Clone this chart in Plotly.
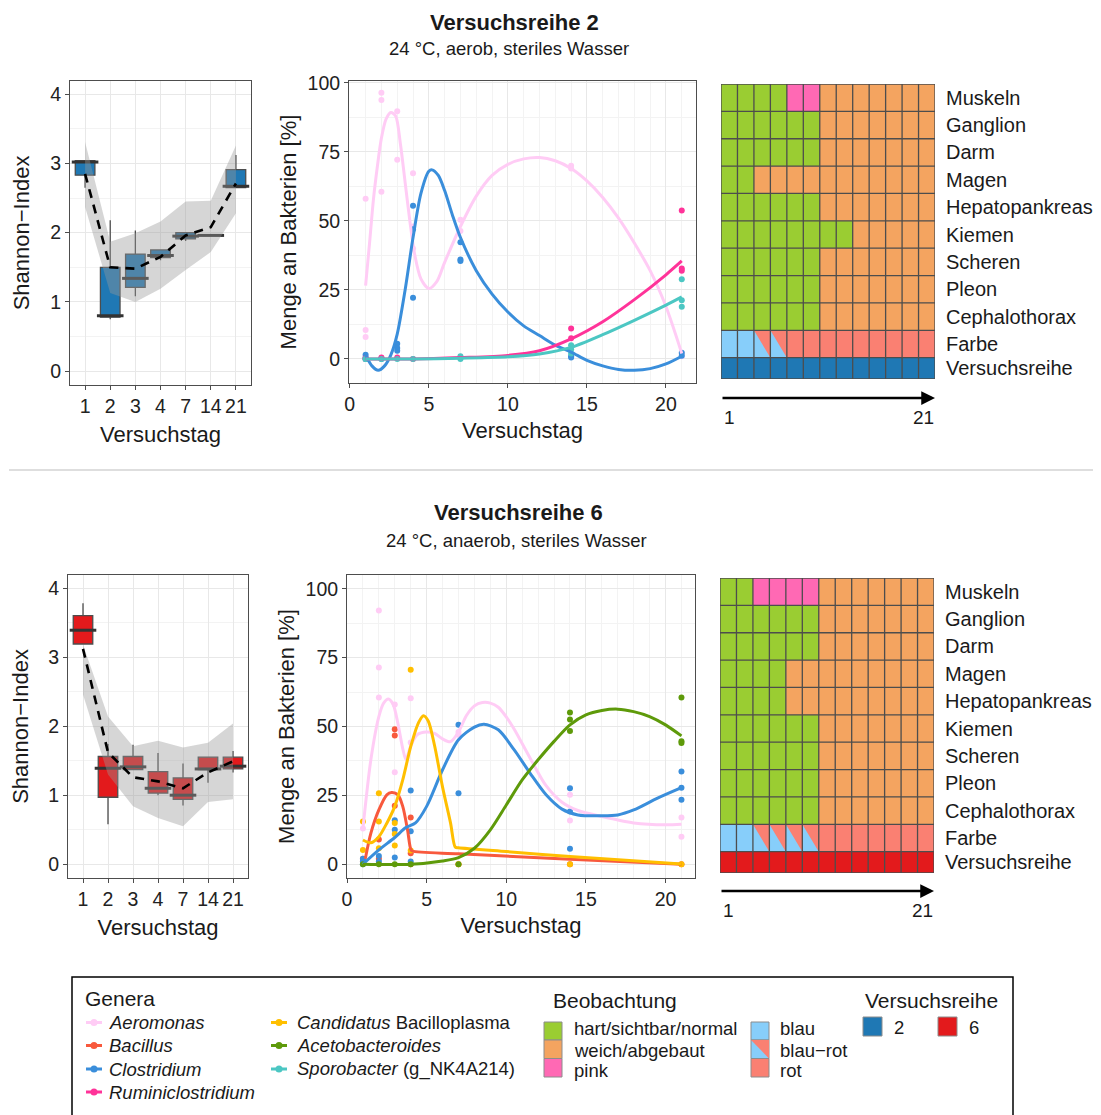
import plotly.graph_objects as go

W, H = 1101, 1115
OFF = 8  # the page body margin
FW, FH = W - OFF, H - OFF
FONT = "Liberation Sans, Arial, sans-serif"
TXT = "#1a1a1a"

# ------------------------------------------------------------------ data
days_cat = ["1", "2", "3", "4", "7", "14", "21"]

# Shannon index, Versuchsreihe 2
vr2_q1 = [2.83, 0.78, 1.21, 1.64, 1.91, 1.96, 2.65]
vr2_med = [3.02, 0.80, 1.34, 1.67, 1.95, 1.96, 2.67]
vr2_q3 = [3.04, 1.50, 1.69, 1.75, 2.00, 1.96, 2.91]
vr2_lo = [2.65, 0.75, 1.08, 1.60, 1.88, 1.96, 2.65]
vr2_hi = [3.04, 2.18, 2.03, 1.76, 2.00, 1.96, 3.12]
vr2_mean = [2.85, 1.50, 1.48, 1.65, 1.96, 2.08, 2.71]
vr2_rib_hi = [3.31, 1.87, 1.99, 2.16, 2.45, 2.46, 3.26]
vr2_rib_lo = [2.37, 1.13, 1.00, 1.19, 1.46, 1.72, 2.28]

# Shannon index, Versuchsreihe 6
vr6_q1 = [3.19, 0.97, 1.37, 1.03, 0.94, 1.37, 1.38]
vr6_med = [3.39, 1.39, 1.41, 1.10, 1.00, 1.38, 1.42]
vr6_q3 = [3.60, 1.56, 1.56, 1.34, 1.25, 1.55, 1.55]
vr6_lo = [3.19, 0.58, 1.37, 1.00, 0.85, 1.18, 1.33]
vr6_hi = [3.78, 1.74, 1.73, 1.61, 1.46, 1.55, 1.64]
vr6_mean = [3.12, 1.62, 1.26, 1.20, 1.10, 1.33, 1.49]
vr6_rib_hi = [3.18, 2.14, 1.71, 1.79, 1.69, 1.76, 2.04]
vr6_rib_lo = [2.46, 1.30, 0.84, 0.67, 0.55, 0.90, 0.94]

# Genera
genera = ["Aeromonas", "Bacillus", "Clostridium", "Ruminiclostridium",
          "Candidatus Bacilloplasma", "Acetobacteroides", "Sporobacter (g_NK4A214)"]
genera_labels = ["<i>Aeromonas</i>", "<i>Bacillus</i>", "<i>Clostridium</i>",
                 "<i>Ruminiclostridium</i>", "<i>Candidatus</i> Bacilloplasma",
                 "<i>Acetobacteroides</i>", "<i>Sporobacter</i> (g_NK4A214)"]
genera_colors = ["#FFCCF5", "#F8593D", "#3A8EDB", "#FF3399",
                 "#FFBF00", "#5E9A0A", "#4CC7C3"]

# --- Versuchsreihe 2: relative abundance points and smoothed curves
vr2_aero_px = [1, 1, 1, 1, 2, 2, 2, 3, 3, 4, 4, 4, 7, 7, 14, 14, 21, 21]
vr2_aero_py = [58, 10.5, 8, 1, 96.4, 93.8, 60.6, 89.7, 72.2, 67.3, 48, 40, 50.4, 46.4, 70, 69, 1, 2]
vr2_aero_cx = [1, 1.25, 1.5, 1.75, 2, 2.3, 2.6, 2.9, 3.2, 3.5, 3.8, 4.1, 4.5, 5.0, 5.5, 6, 7, 8, 9, 10,
               11, 12, 13, 14, 15, 16, 17, 18, 19, 20, 21]
vr2_aero_cy = [26.6, 42, 58, 70, 80, 87, 89.3, 88, 78, 64, 50, 38, 29, 25.5, 28, 35, 48, 59, 66.5, 70.5,
               72.5, 73, 71.8, 69, 64.5, 58.5, 51, 42, 32, 19, 2]

vr2_clos_px = [1, 1, 1, 2, 2, 3, 3, 3, 4, 4, 4, 7, 7, 7, 14, 14, 21, 21]
vr2_clos_py = [1.5, 0.5, 0, 0.3, 0, 5.5, 4, 3, 55.5, 47, 22.2, 42.3, 36, 35.5, 0.5, 1, 2.3, 1.2]
vr2_clos_cx = [1, 1.4, 1.8, 2.2, 2.6, 3, 3.5, 4, 4.5, 5, 5.2, 5.6, 6, 6.5, 7, 8, 9, 10, 11, 12, 13, 14,
               15, 16, 17, 18, 19, 20, 21]
vr2_clos_cy = [1.5, -2.5, -4.1, -2.5, 1.5, 9, 25, 44, 60, 68, 68.5, 66.5, 61, 52, 44, 32, 23.5, 17, 12,
               8.5, 5, 2.5, -0.5, -2.5, -3.8, -4.1, -3.5, -1.8, 1]

vr2_rumi_px = [1, 1, 2, 3, 4, 7, 14, 14, 21, 21, 21]
vr2_rumi_py = [0, 0.3, 0.5, 0.5, 0, 0.5, 11, 7.5, 53.8, 32.8, 32]
vr2_rumi_cx = [1, 4, 7, 10, 12, 14, 16, 18, 20, 21]
vr2_rumi_cy = [0, 0, 0.5, 1.3, 3, 7.3, 13.5, 21.5, 30.5, 35.5]

vr2_spor_px = [1, 1, 2, 3, 4, 7, 7, 14, 14, 14, 21, 21, 21]
vr2_spor_py = [0, 0, 0, 0, 0, 1, 0, 5, 3.5, 2, 28.9, 21.3, 18.9]
vr2_spor_cx = [1, 4, 7, 10, 12, 14, 16, 18, 20, 21]
vr2_spor_cy = [0, 0, 0.3, 0.8, 1.8, 4.2, 8.8, 14, 19.5, 22.5]

# --- Versuchsreihe 6
vr6_aero_px = [1, 2, 2, 2, 3, 3, 4, 4, 7, 7, 14, 14, 21, 21]
vr6_aero_py = [13, 92.1, 71.4, 60.5, 58, 33.4, 60.3, 44.2, 48, 47, 25.2, 15.9, 17, 10]
vr6_aero_cx = [1, 1.5, 2, 2.3, 2.6, 2.9, 3.2, 3.5, 3.7, 4, 4.4, 5, 5.5, 6, 6.5, 7, 7.5, 8, 8.5, 9, 9.5,
               10, 10.5, 11.5, 12.5, 13.5, 14.5, 16, 18, 20, 21]
vr6_aero_cy = [13, 38, 53.6, 58.5, 60, 58, 51, 42, 38, 43, 47, 48, 47.5, 45.5, 44.5, 48, 54, 57.5, 58.7,
               58.5, 57, 53.5, 49, 38.5, 28.5, 22.5, 19.5, 17.3, 15, 14.3, 14.5]

vr6_baci_px = [1, 1, 2, 2, 3, 3, 3, 4, 4, 4, 7, 14, 21]
vr6_baci_py = [2, 1, 9, 2, 49, 46.7, 21.2, 17, 4, 0, 0, 0, 0]
vr6_baci_cx = [1.15, 1.5, 2, 2.5, 2.8, 3.2, 3.5, 3.8, 4, 4.1, 7, 14, 21]
vr6_baci_cy = [2, 11.3, 19.7, 25.2, 26, 25.2, 21, 12.5, 5.5, 4.8, 3.8, 1.8, 0]

vr6_cand_px = [1, 1, 2, 2, 2, 3, 3, 3, 4, 4, 7, 14, 21]
vr6_cand_py = [15.5, 5.2, 25.8, 15.5, 5.8, 15, 11, 6.8, 70.6, 5, 0, 0, 0]
vr6_cand_cx = [1, 1.5, 2, 2.5, 3, 3.5, 4, 4.5, 4.8, 5.1, 5.5, 6, 6.5, 6.8, 7, 10, 14, 21]
vr6_cand_cy = [8.8, 7.8, 10, 14.9, 21, 30.6, 42.7, 51.5, 53.9, 52, 43, 28, 15, 6.2, 6, 4.6, 2.8, 0.1]

vr6_clos_px = [1, 1, 1, 2, 2, 3, 3, 3, 4, 4, 4, 7, 7, 14, 14, 14, 21, 21, 21]
vr6_clos_py = [2, 1, 0, 3, 1, 16, 12.5, 2.4, 26.8, 12, 1, 50.6, 25.8, 27.6, 19.1, 5.6, 33.7, 27.8, 23.4]
vr6_clos_cx = [1, 2, 3, 3.7, 4.3, 5, 6, 7, 8, 8.6, 9.5, 10.5, 11.5, 12.5, 13.5, 14.5, 16, 17, 18, 19.5, 21]
vr6_clos_cy = [0, 5.2, 9.7, 13.3, 15, 21, 34.3, 45.2, 49.8, 50.8, 48.8, 41.5, 33, 25.2, 20, 17.9, 17.6,
               17.9, 19.7, 24, 27.8]

vr6_acet_px = [1, 2, 3, 4, 7, 14, 14, 14, 21, 21, 21]
vr6_acet_py = [0, 0, 0, 0, 0, 55.1, 52.5, 48.4, 60.5, 44.6, 44]
vr6_acet_cx = [1, 4, 6, 7, 8, 9, 10, 11, 12, 13, 14, 15, 16, 17, 18, 19, 20, 21]
vr6_acet_cy = [0, 0, 1.2, 2.4, 5.8, 12.5, 21.5, 30.6, 37.9, 44.6, 50.6, 54.2, 55.8, 56.3, 55.4, 53.6,
               50.6, 46.6]

# --- Observation grids (13 samples, rows top -> bottom)
organs = ["Muskeln", "Ganglion", "Darm", "Magen", "Hepatopankreas", "Kiemen",
          "Scheren", "Pleon", "Cephalothorax", "Farbe", "Versuchsreihe"]
# h = hart/sichtbar/normal, w = weich/abgebaut, p = pink, b = blau, x = blau-rot, r = rot
vr2_rows = ["hhhhppwwwwwww", "hhhhhhwwwwwww", "hhhhhhwwwwwww", "hhwwwwwwwwwww",
            "hhhhhhwwwwwww", "hhhhhhhhwwwww", "hhhhhhwwwwwww", "hhhhhhwwwwwww",
            "hhhhhhwwwwwww", "bbxxrrrrrrrrr", "2222222222222"]
vr6_rows = ["hhppppwwwwwww", "hhhhhhwwwwwww", "hhhhhhwwwwwww", "hhhhwwwwwwwww",
            "hhhhwwwwwwwww", "hhhhhhwwwwwww", "hhhhhhwwwwwww", "hhhhhhwwwwwww",
            "hhhhhhwwwwwww", "bbxxxxrrrrrrr", "6666666666666"]
obs_codes = {"h": 0, "w": 1, "p": 2, "b": 3, "x": 3, "r": 4, "2": 5, "6": 6}
obs_colors = ["#9ACD32", "#F4A460", "#FF69B4", "#87CEFA", "#FA8072", "#1F78B4", "#E31A1C"]
obs_labels = ["hart/sichtbar/normal", "weich/abgebaut", "pink"]
farbe_labels = ["blau", "blau\u2212rot", "rot"]

# ------------------------------------------------------------------ helpers
def px(x):
    return (x - OFF) / FW


def py(y):
    return 1 - (y - OFF) / FH


def dx(a, b):
    return [px(a), px(b)]


def dy(t, b):
    return [py(b), py(t)]


fig = go.Figure()
annotations = []
shapes = []

AX_COMMON = dict(
    showline=True, mirror=True, linecolor="#4D4D4D", linewidth=1,
    ticks="outside", ticklen=4, tickcolor="#4D4D4D", tickwidth=1,
    tickfont=dict(size=19.5, color="#222", family=FONT),
    gridcolor="#E8E8E8", gridwidth=1, zeroline=False, automargin=False,
)


def box_panel(xa, ya, fill, q1, med, q3, lo, hi, mean, rib_hi, rib_lo):
    fig.add_trace(go.Box(x=days_cat, q1=q1, median=med, q3=q3, lowerfence=lo, upperfence=hi,
                         fillcolor=fill, line=dict(color="#4D4D4D", width=1.3), width=0.78,
                         whiskerwidth=0, boxpoints=False, showlegend=False, hoverinfo="skip",
                         xaxis=xa, yaxis=ya))
    fig.add_trace(go.Scatter(x=days_cat, y=med, mode="markers", showlegend=False, hoverinfo="skip",
                             marker=dict(symbol="line-ew", size=19, color="#333",
                                         line=dict(width=3, color="#333333")),
                             xaxis=xa, yaxis=ya))
    fig.add_trace(go.Scatter(x=days_cat, y=rib_hi, mode="lines", line=dict(width=0),
                             showlegend=False, hoverinfo="skip", xaxis=xa, yaxis=ya))
    fig.add_trace(go.Scatter(x=days_cat, y=rib_lo, mode="lines", line=dict(width=0),
                             fill="tonexty", fillcolor="rgba(153,153,153,0.4)",
                             showlegend=False, hoverinfo="skip", xaxis=xa, yaxis=ya))
    fig.add_trace(go.Scatter(x=days_cat, y=mean, mode="lines",
                             line=dict(color="black", width=2.6, dash="9px,7px"),
                             showlegend=False, hoverinfo="skip", xaxis=xa, yaxis=ya))


def line_panel(xa, ya, series):
    for color, pxs, pys, cxs, cys in series:
        fig.add_trace(go.Scatter(x=pxs, y=pys, mode="markers",
                                 marker=dict(color=color, size=6),
                                 showlegend=False, hoverinfo="skip", xaxis=xa, yaxis=ya))
    for color, pxs, pys, cxs, cys in series:
        fig.add_trace(go.Scatter(x=cxs, y=cys, mode="lines",
                                 line=dict(color=color, width=3, shape="spline", smoothing=0.8),
                                 showlegend=False, hoverinfo="skip", xaxis=xa, yaxis=ya))


EDGES = [0, 0.78] + [1.78 + i for i in range(10)]


def heat_panel(xa, ya, rows):
    rows_bottom_up = rows[::-1]
    z = [[obs_codes[c] for c in r] for r in rows_bottom_up]
    n = len(obs_colors)
    cs = []
    for i, c in enumerate(obs_colors):
        cs.append([i / n, c])
        cs.append([(i + 1) / n, c])
    ncol = len(rows[0])
    fig.add_trace(go.Heatmap(z=z, x=list(range(ncol)), y=EDGES, colorscale=cs,
                             zmin=-0.5, zmax=n - 0.5, showscale=False, hoverinfo="skip",
                             xaxis=xa, yaxis=ya))
    # blau-rot split cells: red upper-right triangle
    tx, ty = [], []
    for ri, r in enumerate(rows_bottom_up):
        for ci, c in enumerate(r):
            if c == "x":
                y0, y1 = EDGES[ri], EDGES[ri + 1]
                tx += [ci - 0.5, ci + 0.5, ci + 0.5, ci - 0.5, None]
                ty += [y1, y1, y0, y1, None]
    if tx:
        fig.add_trace(go.Scatter(x=tx, y=ty, mode="lines", fill="toself",
                                 fillcolor=obs_colors[4], line=dict(width=0),
                                 showlegend=False, hoverinfo="skip", xaxis=xa, yaxis=ya))
    gx, gy = [], []
    for k in range(ncol + 1):
        gx += [k - 0.5, k - 0.5, None]
        gy += [EDGES[0], EDGES[-1], None]
    for e in EDGES:
        gx += [-0.5, ncol - 0.5, None]
        gy += [e, e, None]
    fig.add_trace(go.Scatter(x=gx, y=gy, mode="lines", line=dict(color="#4D4D4D", width=1.3),
                             showlegend=False, hoverinfo="skip", xaxis=xa, yaxis=ya))


# ------------------------------------------------------------------ traces
box_panel("x", "y", "#1F78B4", vr2_q1, vr2_med, vr2_q3, vr2_lo, vr2_hi, vr2_mean, vr2_rib_hi, vr2_rib_lo)
line_panel("x2", "y2", [
    (genera_colors[0], vr2_aero_px, vr2_aero_py, vr2_aero_cx, vr2_aero_cy),
    (genera_colors[2], vr2_clos_px, vr2_clos_py, vr2_clos_cx, vr2_clos_cy),
    (genera_colors[3], vr2_rumi_px, vr2_rumi_py, vr2_rumi_cx, vr2_rumi_cy),
    (genera_colors[6], vr2_spor_px, vr2_spor_py, vr2_spor_cx, vr2_spor_cy),
])
heat_panel("x3", "y3", vr2_rows)

box_panel("x4", "y4", "#E31A1C", vr6_q1, vr6_med, vr6_q3, vr6_lo, vr6_hi, vr6_mean, vr6_rib_hi, vr6_rib_lo)
line_panel("x5", "y5", [
    (genera_colors[0], vr6_aero_px, vr6_aero_py, vr6_aero_cx, vr6_aero_cy),
    (genera_colors[1], vr6_baci_px, vr6_baci_py, vr6_baci_cx, vr6_baci_cy),
    (genera_colors[2], vr6_clos_px, vr6_clos_py, vr6_clos_cx, vr6_clos_cy),
    (genera_colors[4], vr6_cand_px, vr6_cand_py, vr6_cand_cx, vr6_cand_cy),
    (genera_colors[5], vr6_acet_px, vr6_acet_py, vr6_acet_cx, vr6_acet_cy),
])
heat_panel("x6", "y6", vr6_rows)

# ------------------------------------------------------------------ axes
title_font = dict(size=22, color=TXT, family=FONT)
minor_grid = dict(showgrid=True, gridcolor="#F3F3F3", gridwidth=0.7, ticks="")


def box_axes(xkey, ykey, xdom, ydom, anchor_x, anchor_y):
    return {
        xkey: dict(AX_COMMON, domain=xdom, anchor=anchor_y, type="category",
                   categoryorder="array", categoryarray=days_cat, range=[-0.6, 6.6],
                   title=dict(text="Versuchstag", font=title_font, standoff=10)),
        ykey: dict(AX_COMMON, domain=ydom, anchor=anchor_x, range=[-0.2, 4.19],
                   tickvals=[0, 1, 2, 3, 4], minor=dict(minor_grid, dtick=0.5),
                   title=dict(text="Shannon\u2212Index", font=title_font, standoff=14)),
    }


def line_axes(xkey, ykey, xdom, ydom, anchor_x, anchor_y, xr, yr):
    return {
        xkey: dict(AX_COMMON, domain=xdom, anchor=anchor_y, range=xr,
                   tickvals=[0, 5, 10, 15, 20], minor=dict(minor_grid, dtick=1, tick0=0),
                   title=dict(text="Versuchstag", font=title_font, standoff=8)),
        ykey: dict(AX_COMMON, domain=ydom, anchor=anchor_x, range=yr,
                   tickvals=[0, 25, 50, 75, 100], minor=dict(minor_grid, dtick=12.5, tick0=0),
                   title=dict(text="Menge an Bakterien [%]", font=title_font, standoff=4)),
    }


centers = [(EDGES[i] + EDGES[i + 1]) / 2 for i in range(len(EDGES) - 1)]


def heat_axes(xkey, ykey, xdom, ydom, anchor_x, anchor_y):
    return {
        xkey: dict(domain=xdom, anchor=anchor_y, range=[-0.5, 12.5], showgrid=False,
                   zeroline=False, showticklabels=False, showline=False, ticks="",
                   automargin=False),
        ykey: dict(domain=ydom, anchor=anchor_x, range=[EDGES[0], EDGES[-1]], showgrid=False,
                   zeroline=False, showline=False, ticks="", side="right",
                   tickvals=centers, ticktext=organs[::-1], ticklabelstandoff=10,
                   tickfont=dict(size=20, color=TXT, family=FONT), automargin=False),
    }


layout_axes = {}
layout_axes.update(box_axes("xaxis", "yaxis", dx(70, 251), dy(81, 385), "x", "y"))
layout_axes.update(line_axes("xaxis2", "yaxis2", dx(349, 696), dy(81, 383), "x2", "y2",
                             [-0.05, 21.9], [-8.7, 100.7]))
layout_axes.update(heat_axes("xaxis3", "yaxis3", dx(721, 935), dy(84, 379), "x3", "y3"))
layout_axes.update(box_axes("xaxis4", "yaxis4", dx(68, 248), dy(575, 878), "x4", "y4"))
layout_axes.update(line_axes("xaxis5", "yaxis5", dx(347, 695), dy(575, 878), "x5", "y5",
                             [0, 21.85], [-5, 105]))
layout_axes.update(heat_axes("xaxis6", "yaxis6", dx(720, 934), dy(578, 873), "x6", "y6"))

# ------------------------------------------------------------------ titles / arrows


def ann(x, y, text, size, xanchor="center", **kw):
    annotations.append(dict(x=px(x), y=py(y), xref="paper", yref="paper", text=text,
                            showarrow=False, xanchor=xanchor, yanchor="middle",
                            font=dict(size=size, color=TXT, family=FONT), **kw))


ann(514, 22, "<b>Versuchsreihe 2</b>", 22)
ann(509, 49, "24 \u00b0C, aerob, steriles Wasser", 18.5)
ann(519, 512, "<b>Versuchsreihe 6</b>", 22)
ann(516, 540, "24 \u00b0C, anaerob, steriles Wasser", 18.5)

for xa, ypix, xl, xr in [("x3", 398, 721, 935), ("x6", 891, 720, 934)]:
    annotations.append(dict(x=12.5, y=py(ypix), xref=xa, yref="paper", ax=-0.5, ay=0,
                            axref=xa, ayref="pixel", text="", showarrow=True, arrowhead=2,
                            arrowsize=1.1, arrowwidth=2.5, arrowcolor="black", standoff=0))
    ann(xl + 1, ypix + 19, "1", 19, xanchor="left")
    ann(xr + 1, ypix + 19, "21", 19, xanchor="right")

# separator
shapes.append(dict(type="line", xref="paper", yref="paper", x0=px(9), x1=px(1093),
                   y0=py(470), y1=py(470), line=dict(color="#BDBDBD", width=1)))

# ------------------------------------------------------------------ legend (manual)
shapes.append(dict(type="rect", xref="paper", yref="paper", x0=px(72), x1=px(1013),
                   y0=py(977), y1=py(1130), line=dict(color="black", width=1.5),
                   fillcolor="rgba(0,0,0,0)"))
ann(83, 998, "Genera", 21, xanchor="left")
leg_rows_y = [1022.5, 1045.5, 1069, 1092]
col_pos = [(94, 107), (279, 295)]
for i, (lab, col) in enumerate(zip(genera_labels, genera_colors)):
    c = 0 if i < 4 else 1
    r = i if i < 4 else i - 4
    kx, tx = col_pos[c]
    yy = leg_rows_y[r]
    shapes.append(dict(type="line", xref="paper", yref="paper", x0=px(kx - 8), x1=px(kx + 8),
                       y0=py(yy), y1=py(yy), line=dict(color=col, width=3)))
    shapes.append(dict(type="circle", xref="paper", yref="paper", x0=px(kx - 3.5), x1=px(kx + 3.5),
                       y0=py(yy + 3.5), y1=py(yy - 3.5), fillcolor=col, line=dict(width=0)))
    ann(tx, yy, lab, 18.5, xanchor="left")

ann(551, 1000, "Beobachtung", 21, xanchor="left")
sq_y = [(1022, 1040), (1040, 1058.5), (1058.5, 1077)]
txt_y = [1029, 1050, 1070]
for i, lab in enumerate(obs_labels):
    y0, y1 = sq_y[i]
    shapes.append(dict(type="rect", xref="paper", yref="paper", x0=px(544), x1=px(562),
                       y0=py(y1), y1=py(y0), fillcolor=obs_colors[i],
                       line=dict(color="#8C8C8C", width=1)))
    ann(572, txt_y[i], lab, 18.5, xanchor="left")
farbe_fill = [obs_colors[3], obs_colors[3], obs_colors[4]]
for i, lab in enumerate(farbe_labels):
    y0, y1 = sq_y[i]
    shapes.append(dict(type="rect", xref="paper", yref="paper", x0=px(751), x1=px(769),
                       y0=py(y1), y1=py(y0), fillcolor=farbe_fill[i],
                       line=dict(color="#8C8C8C", width=1)))
    if i == 1:
        shapes.append(dict(type="path", xref="paper", yref="paper",
                           path=f"M {px(751)} {py(y0)} L {px(769)} {py(y0)} L {px(769)} {py(y1)} Z",
                           fillcolor=obs_colors[4], line=dict(width=0)))
    ann(778, txt_y[i], lab, 18.5, xanchor="left")

ann(863, 1000, "Versuchsreihe", 21, xanchor="left")
for lab, x0, col in [("2", 863, obs_colors[5]), ("6", 938, obs_colors[6])]:
    shapes.append(dict(type="rect", xref="paper", yref="paper", x0=px(x0), x1=px(x0 + 19),
                       y0=py(1036), y1=py(1017), fillcolor=col,
                       line=dict(color="#8C8C8C", width=1)))
    ann(x0 + 29, 1027, lab, 18.5, xanchor="left")

fig.update_layout(
    width=FW, height=FH, margin=dict(l=0, r=0, t=0, b=0),
    paper_bgcolor="white", plot_bgcolor="white", template="none",
    showlegend=False, font=dict(family=FONT, color=TXT),
    annotations=annotations, shapes=shapes, **layout_axes,
)

fig.write_html("out.html")
